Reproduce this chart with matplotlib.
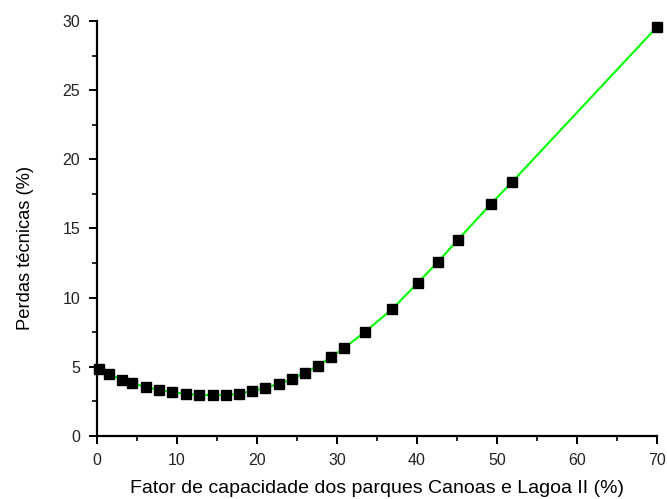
import numpy as np
import matplotlib.pyplot as plt
from matplotlib.ticker import MultipleLocator

plt.rcParams['font.family'] = ['Liberation Sans', 'DejaVu Sans']

# capacity factor (%) and technical losses (%)
fator = [0.2, 1.5, 3.1, 4.4, 6.1, 7.75, 9.4, 11.1, 12.75, 14.5, 16.1, 17.75,
         19.4, 21.0, 22.75, 24.4, 26.0, 27.6, 29.25, 30.9, 33.5, 36.9, 40.1,
         42.6, 45.1, 49.25, 51.9, 70.0]
perdas = [4.84, 4.48, 4.05, 3.83, 3.54, 3.33, 3.18, 3.04, 2.96, 2.96, 2.96,
          3.04, 3.25, 3.47, 3.76, 4.12, 4.55, 5.06, 5.71, 6.36, 7.52, 9.18,
          11.06, 12.58, 14.17, 16.78, 18.37, 29.57]

fig = plt.figure(figsize=(6.67, 4.99), dpi=100)
ax = fig.add_axes([0.1454, 0.1263, 0.8396, 0.8317])

ax.plot(fator, perdas, color='#00ff00', lw=1.5, zorder=2, clip_on=False)
ax.plot(fator, perdas, 's', color='black', ms=7.5, mec='black', zorder=3,
        clip_on=False, ls='none')

ax.set_xlim(0, 70)
ax.set_ylim(0, 30)
ax.xaxis.set_major_locator(MultipleLocator(10))
ax.xaxis.set_minor_locator(MultipleLocator(5))
ax.yaxis.set_major_locator(MultipleLocator(5))
ax.yaxis.set_minor_locator(MultipleLocator(2.5))

for s in ['top', 'right']:
    ax.spines[s].set_visible(False)
for s in ['left', 'bottom']:
    ax.spines[s].set_linewidth(1.6)

ax.tick_params(which='major', direction='out', length=6, width=1.4,
               labelsize=11.5, colors='black', pad=6)
ax.tick_params(which='minor', direction='out', length=3.5, width=1.2)
for lbl in ax.get_xticklabels() + ax.get_yticklabels():
    lbl.set_color('#222222')

ax.set_xlabel('Fator de capacidade dos parques Canoas e Lagoa II (%)',
              fontsize=14, labelpad=9)
ax.set_ylabel('Perdas técnicas (%)', fontsize=13.2)
ax.yaxis.set_label_coords(-0.112, 0.453)

fig.savefig('out.png', dpi=100)
